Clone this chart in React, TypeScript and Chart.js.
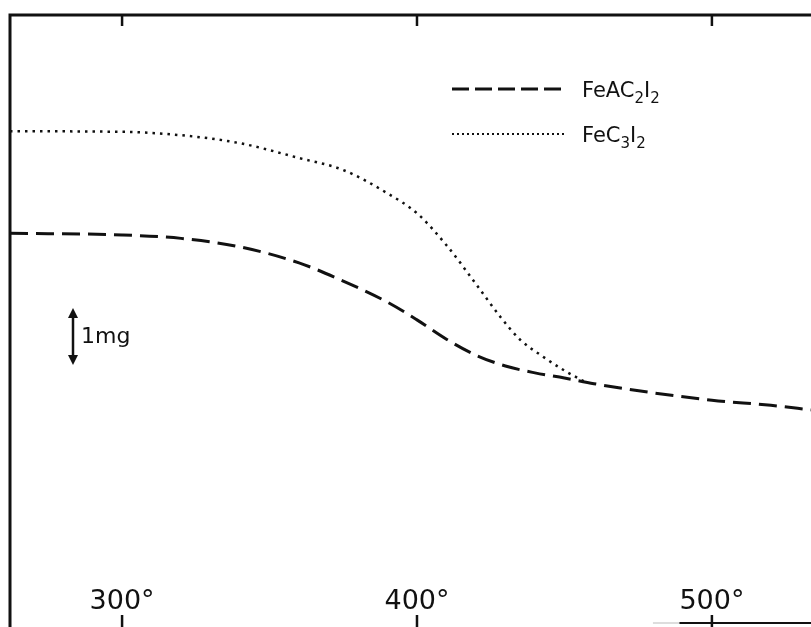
import React, { useEffect, useRef } from "react";
import { Chart, registerables } from "chart.js";

Chart.register(...registerables);

// Temperature (°C) and mass (mg, arbitrary zero)
const tempsFeC3I2 = [262, 300, 320, 340, 360, 375, 390, 400, 410, 420, 428, 435, 442, 450, 457];
const massFeC3I2 = [8.7, 8.69, 8.63, 8.49, 8.23, 8.02, 7.61, 7.26, 6.7, 6.02, 5.46, 5.04, 4.77, 4.5, 4.3];

const tempsFeAC2I2 = [262, 300, 320, 340, 360, 375, 390, 400, 410, 420, 430, 440, 450, 460, 480, 500, 520, 533.6];
const massFeAC2I2 = [6.91, 6.88, 6.82, 6.67, 6.39, 6.07, 5.7, 5.39, 5.05, 4.77, 4.58, 4.46, 4.37, 4.27, 4.11, 3.98, 3.89, 3.81];

const tickTemps = [300, 400, 500];
const tickLabels = ["300°", "400°", "500°"];
const scaleBarFrom = 5.6; // mg
const scaleBarTo = 4.6; // mg

const INK = "#111";

const decorPlugin = {
  id: "decor",
  afterDraw(chart: any) {
    const ctx = chart.ctx as CanvasRenderingContext2D;
    const area = chart.chartArea;
    const xs = chart.scales.x;
    const ys = chart.scales.y;
    ctx.save();
    ctx.strokeStyle = INK;
    ctx.fillStyle = INK;
    ctx.lineCap = "butt";
    // frame: left and top
    ctx.lineWidth = 3;
    ctx.beginPath();
    ctx.moveTo(area.left, area.bottom);
    ctx.lineTo(area.left, area.top);
    ctx.lineTo(area.right, area.top);
    ctx.stroke();
    // bottom right line
    ctx.lineWidth = 1;
    ctx.strokeStyle = "#bbb";
    ctx.beginPath();
    ctx.moveTo(xs.getPixelForValue(480), area.bottom - 4);
    ctx.lineTo(xs.getPixelForValue(490), area.bottom - 4);
    ctx.stroke();
    ctx.strokeStyle = INK;
    ctx.lineWidth = 2;
    ctx.beginPath();
    ctx.moveTo(xs.getPixelForValue(489), area.bottom - 4);
    ctx.lineTo(area.right, area.bottom - 4);
    ctx.stroke();
    // ticks and labels
    ctx.lineWidth = 2.5;
    ctx.font = "27px 'DejaVu Sans'";
    ctx.textAlign = "center";
    ctx.textBaseline = "alphabetic";
    tickTemps.forEach((t, i) => {
      const px = xs.getPixelForValue(t);
      ctx.beginPath();
      ctx.moveTo(px, area.top);
      ctx.lineTo(px, area.top + 11);
      ctx.stroke();
      ctx.beginPath();
      ctx.moveTo(px, area.bottom - 12);
      ctx.lineTo(px, area.bottom);
      ctx.stroke();
      ctx.fillText(tickLabels[i], px, area.bottom - 18);
    });
    // legend
    const lx0 = 452;
    const lx1 = 564;
    const ly1 = 89;
    const ly2 = 134;
    ctx.lineWidth = 3;
    ctx.setLineDash([17, 6]);
    ctx.beginPath();
    ctx.moveTo(lx0, ly1);
    ctx.lineTo(lx1, ly1);
    ctx.stroke();
    ctx.lineWidth = 2;
    ctx.setLineDash([2, 3]);
    ctx.beginPath();
    ctx.moveTo(lx0, ly2);
    ctx.lineTo(lx1, ly2);
    ctx.stroke();
    ctx.setLineDash([]);
    const drawChem = (parts: [string, boolean][], x: number, y: number) => {
      ctx.textAlign = "left";
      let cx = x;
      parts.forEach(([s, sub]) => {
        ctx.font = sub ? "15px 'DejaVu Sans'" : "21px 'DejaVu Sans'";
        ctx.fillText(s, cx, sub ? y + 6 : y);
        cx += ctx.measureText(s).width;
      });
    };
    drawChem([["FeAC", false], ["2", true], ["I", false], ["2", true]], 582, 97);
    drawChem([["FeC", false], ["3", true], ["I", false], ["2", true]], 582, 142);
    // 1 mg scale bar
    const ax = 73;
    const ay0 = ys.getPixelForValue(scaleBarFrom);
    const ay1 = ys.getPixelForValue(scaleBarTo);
    ctx.lineWidth = 2.5;
    ctx.beginPath();
    ctx.moveTo(ax, ay0 + 8);
    ctx.lineTo(ax, ay1 - 8);
    ctx.stroke();
    ctx.beginPath();
    ctx.moveTo(ax, ay0);
    ctx.lineTo(ax - 5, ay0 + 10);
    ctx.lineTo(ax + 5, ay0 + 10);
    ctx.closePath();
    ctx.fill();
    ctx.beginPath();
    ctx.moveTo(ax, ay1);
    ctx.lineTo(ax - 5, ay1 - 10);
    ctx.lineTo(ax + 5, ay1 - 10);
    ctx.closePath();
    ctx.fill();
    ctx.font = "22px 'DejaVu Sans'";
    ctx.textAlign = "left";
    ctx.fillText("1mg", 81, 343);
    ctx.restore();
  },
};

export default function App() {
  const ref = useRef<HTMLCanvasElement | null>(null);
  useEffect(() => {
    if (!ref.current) return;
    const chart = new Chart(ref.current, {
      type: "line",
      data: {
        datasets: [
          {
            label: "FeAC2I2",
            data: tempsFeAC2I2.map((t, i) => ({ x: t, y: massFeAC2I2[i] })),
            borderColor: INK,
            borderWidth: 3,
            borderDash: [18, 8],
            pointRadius: 0,
            cubicInterpolationMode: "monotone",
            fill: false,
          },
          {
            label: "FeC3I2",
            data: tempsFeC3I2.map((t, i) => ({ x: t, y: massFeC3I2[i] })),
            borderColor: INK,
            borderWidth: 2.5,
            borderDash: [2.5, 5],
            pointRadius: 0,
            cubicInterpolationMode: "monotone",
            fill: false,
          },
        ],
      },
      options: {
        animation: false,
        responsive: true,
        maintainAspectRatio: false,
        layout: { padding: { left: 10, top: 15, right: 0, bottom: 0 } },
        scales: {
          x: { type: "linear", min: 262, max: 533.6, display: false },
          y: { type: "linear", min: 0, max: 10.74, display: false },
        },
        plugins: { legend: { display: false }, tooltip: { enabled: false } },
      },
      plugins: [decorPlugin],
    });
    return () => chart.destroy();
  }, []);
  return (
    <div style={{ position: "fixed", left: 0, top: 0, width: 811, height: 627, background: "#fff" }}>
      <canvas ref={ref} />
    </div>
  );
}
